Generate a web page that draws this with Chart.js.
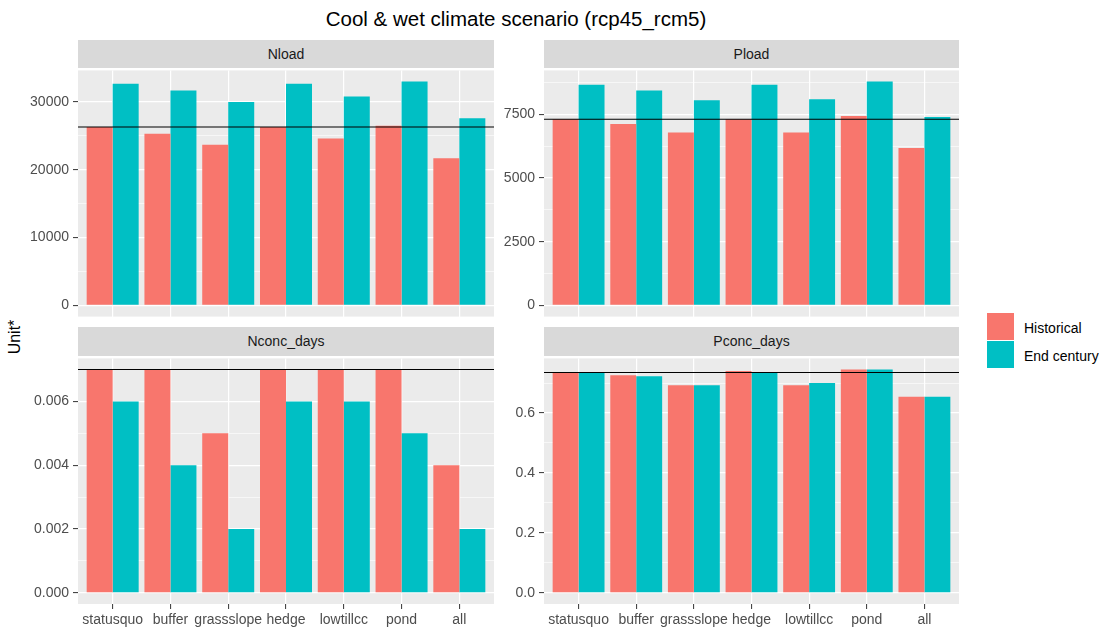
<!DOCTYPE html>
<html>
<head>
<meta charset="utf-8">
<script src="https://cdn.jsdelivr.net/npm/chart.js@4.4.1/dist/chart.umd.min.js"></script>
<style>
body { margin:0; width:1104px; height:628px; background:#fff; position:relative; overflow:hidden; font-family:"Liberation Sans", Arial, sans-serif; }
canvas { position:absolute; }
#title { position:absolute; left:16px; width:1000px; top:7px; text-align:center; font-size:20.5px; color:#000; }
#ytitle { position:absolute; left:15px; top:337px; transform:translate(-50%,-50%) rotate(-90deg); font-size:16px; color:#000; white-space:nowrap; }
.strip { position:absolute; background:#d9d9d9; color:#1a1a1a; font-size:14px; text-align:center; }
.key { position:absolute; left:987px; width:27px; height:27px; }
.ktext { position:absolute; left:1024px; font-size:14px; color:#000; transform:translateY(-50%); }
</style>
</head>
<body>
<div id="title">Cool &amp; wet climate scenario (rcp45_rcm5)</div>
<div id="ytitle">Unit*</div>
<div class="key" style="top:313px;background:#F8766D"></div>
<div class="key" style="top:341px;background:#00BFC4"></div>
<div class="ktext" style="top:328px">Historical</div>
<div class="ktext" style="top:356px">End century</div>

<script>
// scenarios on the x axis
const categories = ['statusquo', 'buffer', 'grassslope', 'hedge', 'lowtillcc', 'pond', 'all'];
const seriesNames = ['Historical', 'End century'];

// values
const nloadHist = [26300, 25300, 23700, 26300, 24600, 26500, 21700];
const nloadEnd  = [32700, 31700, 30000, 32700, 30800, 33000, 27600];
const ploadHist = [7300, 7120, 6780, 7300, 6780, 7430, 6170];
const ploadEnd  = [8660, 8430, 8050, 8660, 8090, 8780, 7390];
const nconcHist = [0.007, 0.007, 0.005, 0.007, 0.007, 0.007, 0.004];
const nconcEnd  = [0.006, 0.004, 0.002, 0.006, 0.006, 0.005, 0.002];
const pconcHist = [0.734, 0.726, 0.693, 0.740, 0.693, 0.745, 0.654];
const pconcEnd  = [0.734, 0.723, 0.693, 0.734, 0.700, 0.745, 0.654];

// black reference line (status quo, historical)
const refNload = 26300;
const refPload = 7300;
const refNconc = 0.007;
const refPconc = 0.735;

const colHist = '#F8766D';
const colEnd = '#00BFC4';
const axisW = 78;

const panels = [
  { name: 'Nload', hist: nloadHist, end: nloadEnd, ref: refNload, step: 10000, dec: 0, x: 78,  y: 68,  w: 416, h: 249, bottom: false },
  { name: 'Pload', hist: ploadHist, end: ploadEnd, ref: refPload, step: 2500,  dec: 0, x: 544, y: 68,  w: 415, h: 249, bottom: false },
  { name: 'Nconc_days', hist: nconcHist, end: nconcEnd, ref: refNconc, step: 0.002, dec: 3, x: 78,  y: 356, w: 416, h: 248, bottom: true },
  { name: 'Pconc_days', hist: pconcHist, end: pconcEnd, ref: refPconc, step: 0.2,   dec: 1, x: 544, y: 356, w: 415, h: 248, bottom: true }
];

// grey panel background
const panelBg = {
  id: 'panelBg',
  beforeDraw(chart) {
    const a = chart.chartArea;
    const ctx = chart.ctx;
    ctx.save();
    ctx.fillStyle = '#EBEBEB';
    ctx.fillRect(a.left, a.top, a.right - a.left, a.bottom - a.top);
    ctx.restore();
  }
};

function isMajor(v, step) {
  const r = v / step;
  return Math.abs(r - Math.round(r)) < 1e-6;
}

panels.forEach(p => {
  const bottomH = p.bottom ? 30 : 12;
  const topPad = 10;

  const strip = document.createElement('div');
  strip.className = 'strip';
  strip.style.left = p.x + 'px';
  strip.style.width = p.w + 'px';
  const sh = p.bottom ? 29 : 28;
  strip.style.top = (p.y - sh) + 'px';
  strip.style.height = sh + 'px';
  strip.style.lineHeight = sh + 'px';
  strip.textContent = p.name;
  document.body.appendChild(strip);

  const cv = document.createElement('canvas');
  const cw = axisW + p.w + 6;
  const ch = topPad + p.h + bottomH;
  cv.width = cw; cv.height = ch;
  cv.style.left = (p.x - axisW) + 'px';
  cv.style.top = (p.y - topPad) + 'px';
  cv.style.width = cw + 'px';
  cv.style.height = ch + 'px';
  document.body.appendChild(cv);

  const top = Math.max(...p.hist, ...p.end, p.ref);
  const yMin = -0.05 * top;
  const yMax = 1.05 * top;
  const xMin = 0.4, xMax = categories.length + 0.6;

  new Chart(cv.getContext('2d'), {
    type: 'bar',
    data: {
      datasets: [
        {
          type: 'line',
          data: [{ x: xMin, y: p.ref }, { x: xMax, y: p.ref }],
          borderColor: '#000',
          borderWidth: 1.1,
          pointRadius: 0,
          order: 0
        },
        {
          label: seriesNames[0],
          data: p.hist.map((v, i) => ({ x: i + 1, y: v })),
          backgroundColor: colHist,
          borderWidth: 0,
          categoryPercentage: 0.9,
          barPercentage: 1.0,
          order: 1
        },
        {
          label: seriesNames[1],
          data: p.end.map((v, i) => ({ x: i + 1, y: v })),
          backgroundColor: colEnd,
          borderWidth: 0,
          categoryPercentage: 0.9,
          barPercentage: 1.0,
          order: 1
        }
      ]
    },
    options: {
      responsive: false,
      animation: false,
      devicePixelRatio: 1,
      layout: { padding: { top: topPad, right: 6, left: 0, bottom: 0 } },
      plugins: { legend: { display: false }, tooltip: { enabled: false } },
      scales: {
        x: {
          type: 'linear',
          min: xMin,
          max: xMax,
          offset: false,
          afterBuildTicks: s => { s.ticks = categories.map((c, i) => ({ value: i + 1 })); },
          afterFit: s => { s.height = bottomH; },
          border: { display: false },
          grid: {
            offset: false,
            color: '#FFFFFF',
            lineWidth: 1.2,
            drawTicks: p.bottom,
            tickLength: 5,
            tickColor: '#333333',
            tickWidth: 1
          },
          ticks: {
            display: p.bottom,
            autoSkip: false,
            maxRotation: 0,
            padding: 3,
            color: '#4D4D4D',
            font: { family: 'Liberation Sans', size: 14 },
            callback: v => categories[Math.round(v) - 1]
          }
        },
        y: {
          type: 'linear',
          min: yMin,
          max: yMax,
          afterBuildTicks: s => {
            const half = p.step / 2;
            const t = [];
            for (let i = 0; i * half <= yMax; i++) t.push({ value: Number((i * half).toFixed(6)) });
            s.ticks = t;
          },
          afterFit: s => { s.width = axisW; },
          border: { display: false },
          grid: {
            color: '#FFFFFF',
            lineWidth: c => (c.tick && isMajor(c.tick.value, p.step)) ? 1.2 : 0.6,
            tickLength: 5,
            tickWidth: 1,
            tickColor: c => (c.tick && isMajor(c.tick.value, p.step)) ? '#333333' : 'rgba(0,0,0,0)'
          },
          ticks: {
            autoSkip: false,
            padding: 4,
            color: '#4D4D4D',
            font: { family: 'Liberation Sans', size: 14 },
            callback: v => isMajor(v, p.step) ? Number(v).toFixed(p.dec) : ''
          }
        }
      }
    },
    plugins: [panelBg]
  });
});
</script>
</body>
</html>
